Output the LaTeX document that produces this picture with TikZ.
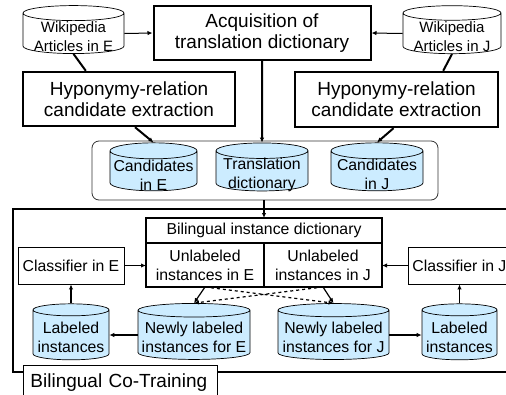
\documentclass[tikz,border=0pt]{standalone}
\usepackage{fontspec}
\setmainfont{Liberation Sans}
\usetikzlibrary{arrows.meta,positioning,shapes.geometric}
\definecolor{dbblue}{RGB}{204,236,255}

\begin{document}
\begin{tikzpicture}[
  x=1pt, y=-1pt,
  bigbox/.style={rectangle, draw, line width=2pt, align=center,
                 font=\fontsize{19}{21}\selectfont, inner sep=0pt},
  smallbox/.style={rectangle, draw, line width=0.9pt, align=center,
                   font=\fontsize{15.8}{19}\selectfont, inner sep=0pt},
  dictcell/.style={smallbox, line width=1.5pt, outer sep=0pt},
  db/.style={cylinder, shape border rotate=90, aspect=0.2, draw,
             line width=0.7pt, fill=dbblue, align=center,
             inner xsep=0pt, inner ysep=-15pt,
             font=\fontsize{15.8}{19}\selectfont},
  wikidb/.style={db, fill=white, font=\fontsize{15}{19}\selectfont},
  arr/.style={draw,-{Latex[length=5pt,width=4.5pt]},line width=1.2pt},
  dasharr/.style={arr, dashed}
]
\path[use as bounding box, fill=white] (0,0) rectangle (506,394);

% top row
\node[wikidb, aspect=0.19, minimum width=101, minimum height=48] (wikiE) at (73.5,33.5) {\rule{0pt}{17pt}Wikipedia\\Articles in E};
\node[wikidb, aspect=0.19, minimum width=98, minimum height=48]  (wikiJ) at (452,33.5) {\rule{0pt}{17pt}Wikipedia\\Articles in J};
\node[bigbox, minimum width=217, minimum height=54] (acq) at (262,33) {Acquisition of\\translation dictionary};
\node[bigbox, line width=2.4pt, minimum width=212, minimum height=54] (hypE) at (129,99) {Hyponymy-relation\\candidate extraction};
\node[bigbox, line width=2.4pt, minimum width=203, minimum height=55] (hypJ) at (396.5,99.5) {Hyponymy-relation\\candidate extraction};

% candidates
\node[draw=black!80, rounded corners=7pt, line width=0.8pt,
      minimum width=346, minimum height=59] (cands) at (265,170.5) {};
\node[db, minimum width=87, minimum height=48] (candE) at (153.5,171) {\rule{0pt}{19pt}Candidates\\in E};
\node[db, minimum width=92, minimum height=48] (trans) at (262,171) {\rule{0pt}{19pt}Translation\\dictionary};
\node[db, minimum width=92, minimum height=48] (candJ) at (377,171) {\rule{0pt}{19pt}Candidates\\in J};

% bilingual co-training
\node[draw, line width=2.2pt, outer sep=0pt, anchor=north west,
      minimum width=499, minimum height=163] (cotrain) at (13,209) {};
\node[dictcell, minimum width=236, minimum height=25] (dict) at (264,230.5) {Bilingual instance dictionary};
\node[dictcell, minimum width=118, minimum height=44, below right=0pt of dict.south west] (unE) {Unlabeled\\instances in E};
\node[dictcell, minimum width=118, minimum height=44, below left=0pt of dict.south east] (unJ) {Unlabeled\\instances in J};
\node[smallbox, minimum width=106, minimum height=37] (clsE) at (71,265.5) {Classifier in E};
\node[smallbox, minimum height=37, inner xsep=4pt, anchor=west] (clsJ) at (408,265.5) {Classifier in J\hspace{4pt}};
\node[db, aspect=0.18, minimum width=76, minimum height=56]  (labE) at (71,335) {\rule{0pt}{17pt}Labeled\\instances};
\node[db, aspect=0.13, minimum width=112, minimum height=56] (newE) at (194,335) {\rule{0pt}{17pt}Newly labeled\\instances for E};
\node[db, aspect=0.13, minimum width=111, minimum height=56] (newJ) at (333.5,335) {\rule{0pt}{17pt}Newly labeled\\instances for J};
\node[db, aspect=0.18, minimum width=75, minimum height=56]  (labJ) at (459.5,335) {\rule{0pt}{17pt}Labeled\\instances};
\node[smallbox, fill=white, anchor=north west, align=left,
      font=\fontsize{19}{21}\selectfont, text width=180pt, inner xsep=7pt,
      inner ysep=5pt, text height=17pt, text depth=3pt] (cotrainlbl) at (23,365) {Bilingual Co-Training};

% connectors
\draw[arr, line width=1pt] (wikiE.0) -- (acq.west);
\draw[arr, line width=1pt] (wikiJ.180) -- (acq.east);
\draw[line width=2pt] (wikiE.270) -- ([xshift=64pt]hypE.north west);
\draw[line width=2pt] (wikiJ.270) -- ([xshift=-56pt]hypJ.north east);
\draw[arr, line width=2pt] ([xshift=6pt]hypE.south) -- (candE.90);
\draw[arr, line width=2pt] (acq.south) -- (trans.90);
\draw[arr, line width=2pt] ([xshift=-3pt]hypJ.south) -- (candJ.90);
\draw[arr, line width=2pt] (dict.north |- cands.south) -- (dict.north);
\draw[arr] (clsE.east) -- (clsE.east -| unE.west);
\draw[arr] (clsJ.west) -- (clsJ.west -| unJ.east);
\draw[arr] (labE.90) -- (labE.90 |- clsE.south);
\draw[arr] (labJ.90) -- (labJ.90 |- clsJ.south);
\draw[arr] (newE.180) -- (labE.0);
\draw[arr] (newJ.0) -- (labJ.180);
\draw[arr] (unE.south) -- (newE.90);
\draw[arr] (unJ.south) -- (newJ.90);
\draw[dasharr] (unE.south) -- (newJ.90);
\draw[dasharr] (unJ.south) -- (newE.90);
\end{tikzpicture}
\end{document}
